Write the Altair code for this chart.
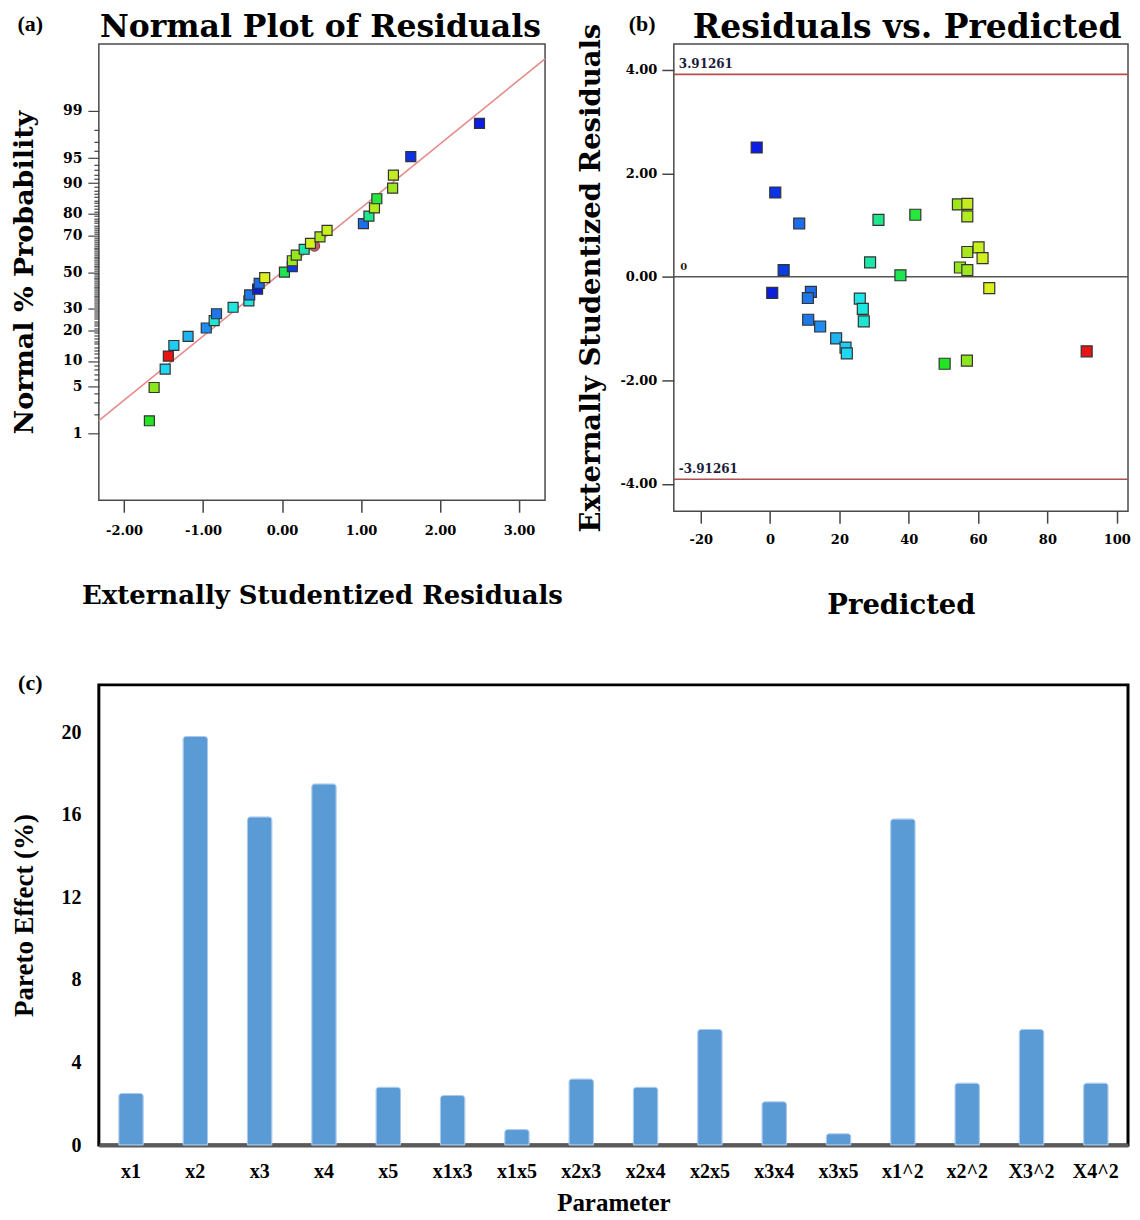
import json
from statistics import NormalDist

import altair as alt
import pandas as pd

# ---------------- Panel (a): normal probability plot ----------------
a_resid = [-1.68, -1.62, -1.48, -1.44, -1.37, -1.19, -0.96, -0.86, -0.83, -0.62,
           -0.42, -0.41, -0.31, -0.29, -0.22, 0.03, 0.13, 0.13, 0.18, 0.28,
           0.36, 0.48, 0.57, 1.03, 1.10, 1.17, 1.20, 1.40, 1.41, 1.63, 2.50]
a_pct = [1.6, 4.8, 8.1, 11.3, 14.5, 17.7, 21.0, 24.2, 27.4, 30.6,
         33.9, 37.1, 40.3, 43.5, 46.8, 50.0, 53.2, 56.5, 59.7, 62.9,
         66.1, 69.4, 72.6, 75.8, 79.0, 82.3, 85.5, 88.7, 91.9, 95.2, 98.4]
a_color = ["#22e622", "#8ce61e", "#1ed7f5", "#e61414", "#1ecdf5", "#1eb4f0", "#1e8cf0",
           "#1ee6d2", "#1e78eb", "#1ee6dc", "#1ee6e6", "#1e78eb", "#0a1edc", "#1e6eeb",
           "#dcf01e", "#1ee650", "#0a3ce6", "#a0e61e", "#96e61e", "#1ee6aa", "#d2f01e",
           "#aae61e", "#c8f01e", "#1e6eeb", "#1ee68c", "#b4eb1e", "#28e63c", "#a0e61e",
           "#c3eb1e", "#0a32e6", "#0a1ee6"]
a_extra_resid = [0.41]
a_extra_pct = [64.7]
a_xdomain = [-2.32, 3.33]
a_zdomain = [-3.29, 3.29]
a_fit_slope = 0.924
a_fit_intercept = 0.0
a_major_pct = [1, 5, 10, 20, 30, 50, 70, 80, 90, 95, 99]
a_minor_pct = list(range(1, 100))
a_xticks = [-2, -1, 0, 1, 2, 3]

# ---------------- Panel (b): residuals vs predicted ----------------
b_pred = [-3.86, 1.50, 8.41, 3.92, 0.63, 11.78, 10.91, 11.0, 14.45, 19.06, 21.77, 22.14,
          25.89, 26.75, 27.04, 28.85, 31.27, 37.6, 41.9, 50.36, 54.19, 56.9, 56.9, 56.9,
          54.77, 56.9, 60.15, 61.3, 63.23, 56.78, 91.33]
b_resid = [2.50, 1.63, 1.03, 0.13, -0.31, -0.29, -0.41, -0.83, -0.96, -1.19, -1.37, -1.48,
           -0.42, -0.62, -0.86, 0.28, 1.10, 0.03, 1.20, -1.68, 1.40, 1.41, 1.17, 0.48,
           0.18, 0.13, 0.57, 0.36, -0.22, -1.62, -1.44]
b_color = ["#0a1ee6", "#0a32e6", "#1e6eeb", "#0a3ce6", "#0a1edc", "#1e6eeb", "#1e78eb",
           "#1e78eb", "#1e8cf0", "#1eb4f0", "#1ecdf5", "#1ed7f5", "#1ee6e6", "#1ee6dc",
           "#1ee6d2", "#1ee6aa", "#1ee68c", "#1ee650", "#28e63c", "#22e622", "#a0e61e",
           "#c3eb1e", "#b4eb1e", "#aae61e", "#96e61e", "#a0e61e", "#c8f01e", "#d2f01e",
           "#dcf01e", "#8ce61e", "#e61414"]
b_limits = [3.91261, -3.91261]
b_limit_labels = ["3.91261", "-3.91261"]
b_xdomain = [-27.76, 103.25]
b_ydomain = [-4.53, 4.50]
b_xticks = [-20, 0, 20, 40, 60, 80, 100]
b_yticks = [-4, -2, 0, 2, 4]

# ---------------- Panel (c): Pareto chart ----------------
c_params = ["x1", "x2", "x3", "x4", "x5", "x1x3", "x1x5", "x2x3", "x2x4", "x2x5",
            "x3x4", "x3x5", "x1^2", "x2^2", "X3^2", "X4^2"]
c_effect = [2.5, 19.8, 15.9, 17.5, 2.8, 2.4, 0.75, 3.2, 2.8, 5.6, 2.1, 0.55, 15.8, 3.0, 5.6, 3.0]
c_yticks = [0, 4, 8, 12, 16, 20]

titles = ["Normal Plot of Residuals", "Residuals vs. Predicted"]
panel_tags = ["(a)", "(b)", "(c)"]

HEAVY = "DejaVu Serif"
TIMES = "Liberation Serif"


def hyphen_fmt(fmt):
    return f"replace(format(datum.value, '{fmt}'), '\u2212', '-')"


def text_layer(txt, x, y, font, size, weight="bold", align="center"):
    return alt.Chart(pd.DataFrame({"t": [txt]})).mark_text(
        font=font, fontWeight=weight, fontSize=size, align=align, baseline="middle", color="black"
    ).encode(x=alt.value(x), y=alt.value(y), text="t:N")


# ================= Panel (a) =================
df_a = pd.DataFrame({"resid": a_resid, "pct": a_pct, "col": a_color})
df_a_extra = pd.DataFrame({"resid": a_extra_resid, "pct": a_extra_pct})
df_a_line = pd.DataFrame({"resid": a_xdomain})

major_js = json.dumps(a_major_pct)
pct_expr = "round(cumulativeNormal(datum.value)*100)"
is_major = f"indexof({major_js}, {pct_expr}) >= 0"
z_ticks = [NormalDist().inv_cdf(p / 100) for p in a_minor_pct]

ax_a_x = alt.Axis(values=a_xticks, labelExpr=hyphen_fmt(".2f"), title="Externally Studentized Residuals",
                  labelFont=HEAVY, labelFontWeight="bold", labelFontSize=13, labelColor="black",
                  titleFont=HEAVY, titleFontWeight="bold", titleFontSize=26, titleColor="black",
                  tickSize=12, tickColor="#444", tickWidth=1.5, domain=False, grid=False,
                  labelPadding=12, titlePadding=45)
ax_a_y = alt.Axis(values=z_ticks, tickCount=1000, labelExpr=f"{is_major} ? '' + {pct_expr} : ''",
                  title="Normal % Probability", labelOverlap=False,
                  labelFont=HEAVY, labelFontWeight="bold", labelFontSize=14, labelColor="black",
                  titleFont=HEAVY, titleFontWeight="bold", titleFontSize=27, titleColor="black",
                  tickSize={"condition": {"test": is_major, "value": 11}, "value": 5},
                  tickColor="#444", tickWidth=1.2, domain=False, grid=False,
                  labelPadding=6, titlePadding=24)

xs_a = alt.Scale(domain=a_xdomain, nice=False, zero=False)
ys_a = alt.Scale(domain=a_zdomain, nice=False, zero=False)

a_line = alt.Chart(df_a_line).transform_calculate(
    z=f"{a_fit_slope}*datum.resid + {a_fit_intercept}"
).mark_line(color="#e68a8a", strokeWidth=1.6).encode(
    x=alt.X("resid:Q", scale=xs_a, axis=ax_a_x),
    y=alt.Y("z:Q", scale=ys_a, axis=ax_a_y),
)
a_extra = alt.Chart(df_a_extra).transform_calculate(
    z="quantileNormal(datum.pct/100)"
).mark_circle(size=110, color="#c0606a", opacity=1, stroke="#7a3a40", strokeWidth=1).encode(
    x=alt.X("resid:Q", scale=xs_a), y=alt.Y("z:Q", scale=ys_a))
a_pts = alt.Chart(df_a).transform_calculate(
    z="quantileNormal(datum.pct/100)"
).mark_square(size=100, opacity=1, stroke="#333", strokeWidth=1.2).encode(
    x=alt.X("resid:Q", scale=xs_a),
    y=alt.Y("z:Q", scale=ys_a),
    color=alt.Color("col:N", scale=None),
)

panel_a = alt.layer(
    a_line, a_extra, a_pts,
    text_layer(panel_tags[0], -68.7, -20.2, TIMES, 22),
    text_layer(titles[0], 222, -16.4, HEAVY, 31.5),
).properties(width=447, height=457)

# ================= Panel (b) =================
df_b = pd.DataFrame({"pred": b_pred, "resid": b_resid, "col": b_color})
df_lim = pd.DataFrame({"y": b_limits, "t": b_limit_labels})
df_zero = pd.DataFrame({"y": [0], "t": ["0"]})

xs_b = alt.Scale(domain=b_xdomain, nice=False, zero=False)
ys_b = alt.Scale(domain=b_ydomain, nice=False, zero=False)
ax_b_x = alt.Axis(values=b_xticks, labelExpr=hyphen_fmt("d"), title="Predicted",
                  labelFont=HEAVY, labelFontWeight="bold", labelFontSize=13, labelColor="black",
                  titleFont=HEAVY, titleFontWeight="bold", titleFontSize=27.5, titleColor="black",
                  tickSize=12, tickColor="#444", tickWidth=1.5, domain=False, grid=False,
                  labelPadding=10, titlePadding=45)
ax_b_y = alt.Axis(values=b_yticks, labelExpr=hyphen_fmt(".2f"), title="Externally Studentized Residuals",
                  labelFont=HEAVY, labelFontWeight="bold", labelFontSize=13, labelColor="black",
                  titleFont=HEAVY, titleFontWeight="bold", titleFontSize=27.5, titleColor="black",
                  tickSize=12, tickColor="#444", tickWidth=1.5, domain=False, grid=False,
                  labelPadding=5, titlePadding=14)

b_zero = alt.Chart(df_zero).mark_rule(color="#555", strokeWidth=1.6).encode(
    y=alt.Y("y:Q", scale=ys_b, axis=ax_b_y))
b_lim = alt.Chart(df_lim).mark_rule(color="#b05050", strokeWidth=1.6).encode(
    y=alt.Y("y:Q", scale=ys_b))
b_lim_txt = alt.Chart(df_lim).mark_text(
    font=HEAVY, fontWeight="bold", fontSize=12, align="left", baseline="middle",
    color="#1c1c3c", dy=-10
).encode(x=alt.value(5), y=alt.Y("y:Q", scale=ys_b), text="t:N")
b_zero_txt = alt.Chart(df_zero).mark_text(
    font=HEAVY, fontWeight="bold", fontSize=10, align="center", baseline="middle",
    color="#2a1a10", dy=-10
).encode(x=alt.value(10), y=alt.Y("y:Q", scale=ys_b), text="t:N")
b_pts = alt.Chart(df_b).mark_square(size=121, opacity=1, stroke="#333", strokeWidth=1.2).encode(
    x=alt.X("pred:Q", scale=xs_b, axis=ax_b_x),
    y=alt.Y("resid:Q", scale=ys_b),
    color=alt.Color("col:N", scale=None),
)

panel_b = alt.layer(
    b_zero, b_lim, b_lim_txt, b_zero_txt, b_pts,
    text_layer(panel_tags[1], -31.7, -20.2, TIMES, 22),
    text_layer(titles[1], 233.8, -16.4, HEAVY, 33),
).properties(width=455, height=468)

# ================= Panel (c) =================
df_c = pd.DataFrame({"param": c_params, "effect": c_effect})
c_bars = alt.Chart(df_c).mark_bar(
    color="#5b9bd5", stroke="#a8c8ec", strokeWidth=1, cornerRadiusTopLeft=3, cornerRadiusTopRight=3
).encode(
    x=alt.X("param:N", sort=None,
            scale=alt.Scale(paddingInner=0.62, paddingOuter=0.31),
            axis=alt.Axis(title="Parameter", labelAngle=0, labelFont=TIMES, labelFontWeight="bold",
                          labelFontSize=20, labelColor="black", titleFont=TIMES,
                          titleFontWeight="bold", titleFontSize=25, titleColor="black",
                          ticks=False, domain=True, domainColor="#5a5a5a", domainWidth=4,
                          labelPadding=17, titlePadding=9, grid=False)),
    y=alt.Y("effect:Q", scale=alt.Scale(domain=[0, 22.3], nice=False),
            axis=alt.Axis(values=c_yticks, title="Pareto Effect (%)", labelFont=TIMES,
                          labelFontWeight="bold", labelFontSize=20, labelColor="black",
                          titleFont=TIMES, titleFontWeight="bold", titleFontSize=27,
                          titleColor="black", ticks=False, domain=False, grid=False,
                          labelPadding=18, titlePadding=22)),
)

panel_c = alt.layer(
    c_bars,
    text_layer(panel_tags[2], -68.7, -1.5, TIMES, 22),
).properties(
    width=1031, height=461,
    view=alt.ViewBackground(stroke="black", strokeWidth=3),
)

chart = alt.vconcat(
    alt.hconcat(panel_a, panel_b, spacing=13),
    panel_c,
    spacing=51,
).properties(
    padding={"left": 1, "top": 1, "right": 0, "bottom": 0},
    background="white",
).configure_view(stroke="#4a4a4a", strokeWidth=1.5)

chart.save("out.html", embed_options={"renderer": "svg", "actions": False})
